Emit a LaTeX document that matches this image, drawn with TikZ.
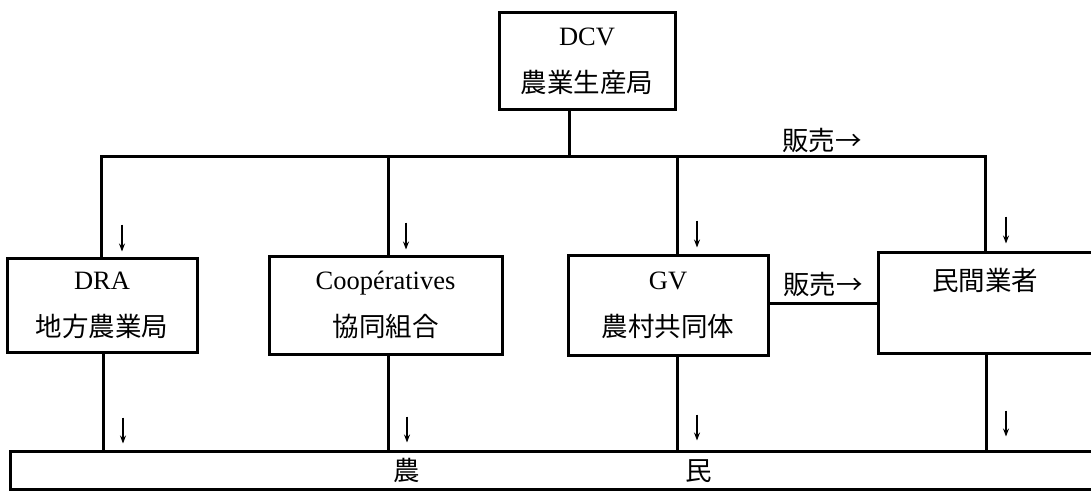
\documentclass[tikz,border=0pt]{standalone}
\usepackage{fontspec}
\setmainfont{Liberation Serif}
\newfontfamily\cjk{Noto Sans CJK JP}
\usetikzlibrary{arrows.meta}
\tikzset{
  box/.style={draw, line width=3pt, inner sep=0pt, align=center,
    font=\fontsize{26.5}{47}\selectfont},
  link/.style={line width=3pt},
  flow/.style={line width=1.2pt, -{Stealth[length=8pt,width=6pt]}},
  lbl/.style={font=\fontsize{26.5}{30}\selectfont\cjk, inner sep=0pt},
}
\begin{document}
\begin{tikzpicture}[x=1pt,y=-1pt]
\useasboundingbox (0,0) rectangle (1091,492);
\fill[white] (0,0) rectangle (1091,492);
% boxes
\node[box, minimum width=176pt, minimum height=97pt] (DCV) at (587,61.5) {DCV\\{\cjk 農業生産局}};
\node[box, minimum width=190pt, minimum height=94pt] (DRA) at (102,305) {DRA\\{\cjk 地方農業局}};
\node[box, minimum width=233pt, minimum height=98pt] (Coop) at (385.5,305) {Coopératives\\{\cjk 協同組合}};
\node[box, minimum width=200pt, minimum height=100pt] (GV) at (668,305) {GV\\{\cjk 農村共同体}};
\node[box, minimum width=232pt, minimum height=101pt] (Min) at (994,302.5) {\hspace*{-18pt}{\cjk 民間業者}\\\mbox{}};
\node[box, minimum width=1085pt, minimum height=38pt, font=\fontsize{26.5}{30}\selectfont\cjk] (farm) at (552.5,470) {農\hspace{265pt}民};
% bus
\coordinate (busL) at (101,156);
\coordinate (busR) at (985,156);
\draw[link] ([xshift=-18pt]DCV.south) -- ([xshift=-18pt]DCV.south |- busL);
\draw[link] (busL |- DRA.north) -- (busL) -- (busR) -- (busR |- Min.north);
\draw[link] ([xshift=2.5pt]Coop.north) -- ([xshift=2.5pt]Coop.north |- busL);
\draw[link] ([xshift=9pt]GV.north) -- ([xshift=9pt]GV.north |- busL);
% to farmers
\draw[link] ([xshift=1pt]DRA.south) -- ([xshift=1pt]DRA.south |- farm.north);
\draw[link] ([xshift=3pt]Coop.south) -- ([xshift=3pt]Coop.south |- farm.north);
\draw[link] ([xshift=9pt]GV.south) -- ([xshift=9pt]GV.south |- farm.north);
\draw[link] ([xshift=-8pt]Min.south) -- ([xshift=-8pt]Min.south |- farm.north);
% GV -> private
\draw[link] ([yshift=2pt]GV.east) -- ([yshift=2pt]GV.east -| Min.west);
\node[lbl] (sale1) at (822,140) {販売→};
\node[lbl] (sale2) at (823,284) {販売→};
% small arrows above boxes
\draw[flow] ([xshift=20pt,yshift=32pt]DRA.north) -- ([xshift=20pt,yshift=5pt]DRA.north);
\draw[flow] ([xshift=20.5pt,yshift=32pt]Coop.north) -- ([xshift=20.5pt,yshift=5pt]Coop.north);
\draw[flow] ([xshift=29pt,yshift=33pt]GV.north) -- ([xshift=29pt,yshift=6pt]GV.north);
\draw[flow] ([xshift=12pt,yshift=34pt]Min.north) -- ([xshift=12pt,yshift=7pt]Min.north);
% small arrows above farmers
\draw[flow] ([xshift=-429.5pt,yshift=32pt]farm.north) -- ([xshift=-429.5pt,yshift=6pt]farm.north);
\draw[flow] ([xshift=-145.5pt,yshift=33pt]farm.north) -- ([xshift=-145.5pt,yshift=7pt]farm.north);
\draw[flow] ([xshift=144.5pt,yshift=35pt]farm.north) -- ([xshift=144.5pt,yshift=9pt]farm.north);
\draw[flow] ([xshift=453.5pt,yshift=39pt]farm.north) -- ([xshift=453.5pt,yshift=13pt]farm.north);
\end{tikzpicture}
\end{document}
